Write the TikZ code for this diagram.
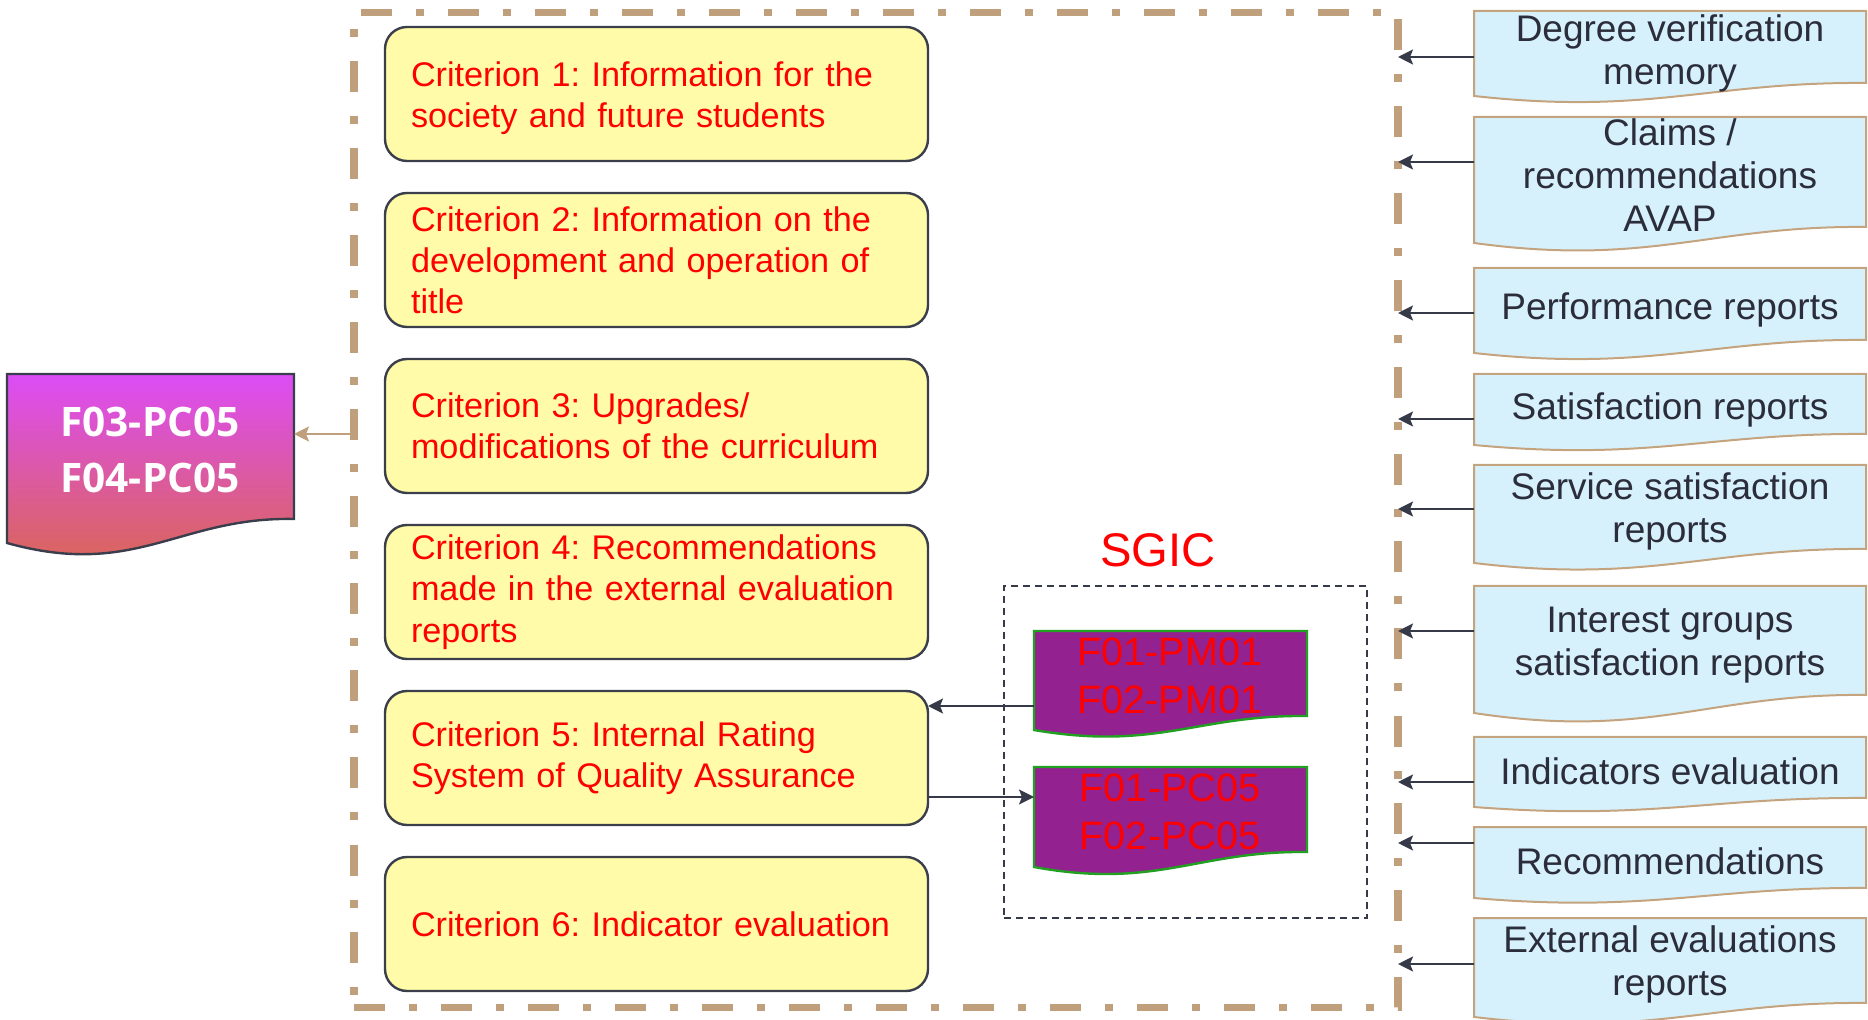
\documentclass[tikz,border=0pt]{standalone}
\usepackage{fontspec}
\setmainfont{Liberation Sans}
\newfontfamily\osb{Open Sans}
\usetikzlibrary{arrows.meta}
\frenchspacing
\definecolor{framebrown}{RGB}{192,160,124}
\definecolor{critfill}{RGB}{255,251,168}
\definecolor{critborder}{RGB}{59,63,76}
\definecolor{bluefill}{RGB}{214,240,252}
\definecolor{docborder}{RGB}{196,164,126}
\definecolor{darktext}{RGB}{43,45,58}
\definecolor{arrowdark}{RGB}{54,58,72}
\definecolor{purp}{RGB}{147,34,144}
\definecolor{greenb}{RGB}{34,160,34}
\definecolor{ltop}{RGB}{220,76,246}
\definecolor{lmid}{RGB}{219,84,178}
\definecolor{lbot}{RGB}{218,104,76}
\definecolor{lborder}{RGB}{58,61,75}
\newcommand{\wavedoc}[6]{\path[#1] (#2,#3) -- (#4,#3) -- (#4,#5) .. controls ({#2+0.6*(#4-#2)},{#6-1.1*(#6-#5)}) and ({#2+0.45*(#4-#2)},{#6+1.5*(#6-#5)}) .. (#2,#6) -- cycle;}
\begin{document}
\begin{tikzpicture}[x=0.5pt,y=-0.5pt,
  crit/.style={draw=critborder, line width=1.2pt, fill=critfill, rounded corners=11pt,
    minimum width=271.5pt, minimum height=67pt, text width=245.5pt, inner xsep=13pt,
    inner ysep=0pt, outer sep=0pt, align=left, text=red,
    font=\fontsize{17.1pt}{20.6pt}\selectfont},
  bluedoc/.style={fill=bluefill, draw=docborder, line width=1pt},
  bluetext/.style={text=darktext, align=center, inner sep=0pt,
    font=\fontsize{18.5pt}{21.5pt}\selectfont},
  purpdoc/.style={fill=purp, draw=greenb, line width=1.2pt},
  purptext/.style={text=red, align=center, inner sep=0pt,
    font=\fontsize{19.8pt}{24pt}\selectfont},
  leftdoc/.style={draw=lborder, line width=1.2pt, top color=ltop, middle color=lmid, bottom color=lbot},
  darrow/.style={draw=arrowdark, line width=1pt, -{Stealth[length=7.5pt,width=7.5pt,inset=1.5pt]}},
  tanarrow/.style={draw=framebrown, line width=1pt, -{Stealth[length=7.5pt,width=7.5pt,inset=1.5pt]}},
]
\useasboundingbox (0,0) rectangle (1868,1020);

% outer frame
\node[draw=framebrown, line width=3.75pt, dash pattern=on 15.5pt off 12pt on 4pt off 12pt,
  minimum width=522pt, minimum height=497.5pt, inner sep=0pt, outer sep=0pt] (frame) at (876,510) {};

% criteria
\node[crit] (c1) at (656.5,94) {\rule{0pt}{16.5pt}Criterion 1: Information for the\\society and future students};
\node[crit] (c2) at (656.5,260) {Criterion 2: Information on the\\development and operation of\\title};
\node[crit] (c3) at (656.5,426) {Criterion 3: Upgrades/\\modifications of the curriculum};
\node[crit] (c4) at (656.5,592) {Criterion 4: Recommendations\\made in the external evaluation\\reports};
\node[crit] (c5) at (656.5,758) {Criterion 5: Internal Rating\\System of Quality Assurance};
\node[crit] (c6) at (656.5,924) {Criterion 6: Indicator evaluation};

% left document
\wavedoc{leftdoc}{7}{374}{294}{519}{543}
\node[text=white, align=center, inner sep=0pt, font={\osb\bfseries\fontsize{20.3pt}{28pt}\selectfont}] (f03) at (150,450) {F03-PC05\\F04-PC05};
\coordinate (f03e) at (294,434);
\draw[tanarrow] (frame.west |- f03e) -- (f03e);

% SGIC
\node[text=red, inner sep=0pt, font=\fontsize{23.6pt}{28pt}\selectfont] (sgic) at (1158,550) {SGIC};
\node[draw=arrowdark, line width=0.8pt, dash pattern=on 3.5pt off 2.5pt, minimum width=181.5pt,
  minimum height=166pt, inner sep=0pt, outer sep=0pt] (sgicbox) at (1185.5,752) {};
\wavedoc{purpdoc}{1034}{631}{1307}{716}{730}
\node[purptext] (pm01) at (1170,676) {F01-PM01\\F02-PM01};
\wavedoc{purpdoc}{1034}{767}{1307}{852}{867}
\node[purptext] (pc05) at (1170,812) {F01-PC05\\F02-PC05};
\coordinate (pm01w) at (1034,706);
\coordinate (pc05w) at (1034,797);
\draw[darrow] (pm01w) -- (c5.east |- pm01w);
\draw[darrow] (c5.east |- pc05w) -- (pc05w);

% right documents
\wavedoc{bluedoc}{1474}{11}{1866}{83}{96}
\node[bluetext] (b1) at (1670,53) {Degree verification\\memory};
\wavedoc{bluedoc}{1474}{117}{1866}{227}{243}
\node[bluetext] (b2) at (1670,175) {Claims /\\recommendations\\AVAP};
\wavedoc{bluedoc}{1474}{268}{1866}{340}{353}
\node[bluetext] (b3) at (1670,310) {Performance reports};
\wavedoc{bluedoc}{1474}{374}{1866}{434}{445}
\node[bluetext] (b4) at (1670,410) {Satisfaction reports};
\wavedoc{bluedoc}{1474}{465}{1866}{549}{563}
\node[bluetext] (b5) at (1670,511) {Service satisfaction\\reports};
\wavedoc{bluedoc}{1474}{586}{1866}{695}{713}
\node[bluetext] (b6) at (1670,645) {Interest groups\\satisfaction reports};
\wavedoc{bluedoc}{1474}{737}{1866}{798}{807}
\node[bluetext] (b7) at (1670,771) {Indicators evaluation};
\wavedoc{bluedoc}{1474}{827}{1866}{888}{898}
\node[bluetext] (b8) at (1670,861) {Recommendations};
\wavedoc{bluedoc}{1474}{918}{1866}{1003}{1017}
\node[bluetext] (b9) at (1670,964) {External evaluations\\reports};

\coordinate (b1w) at (1474,57);
\coordinate (b2w) at (1474,162);
\coordinate (b3w) at (1474,313);
\coordinate (b4w) at (1474,419);
\coordinate (b5w) at (1474,509);
\coordinate (b6w) at (1474,631);
\coordinate (b7w) at (1474,782);
\coordinate (b8w) at (1474,843);
\coordinate (b9w) at (1474,964);
\foreach \b in {b1w,b2w,b3w,b4w,b5w,b6w,b7w,b8w,b9w}
  \draw[darrow] (\b) -- (frame.east |- \b);
\end{tikzpicture}
\end{document}
